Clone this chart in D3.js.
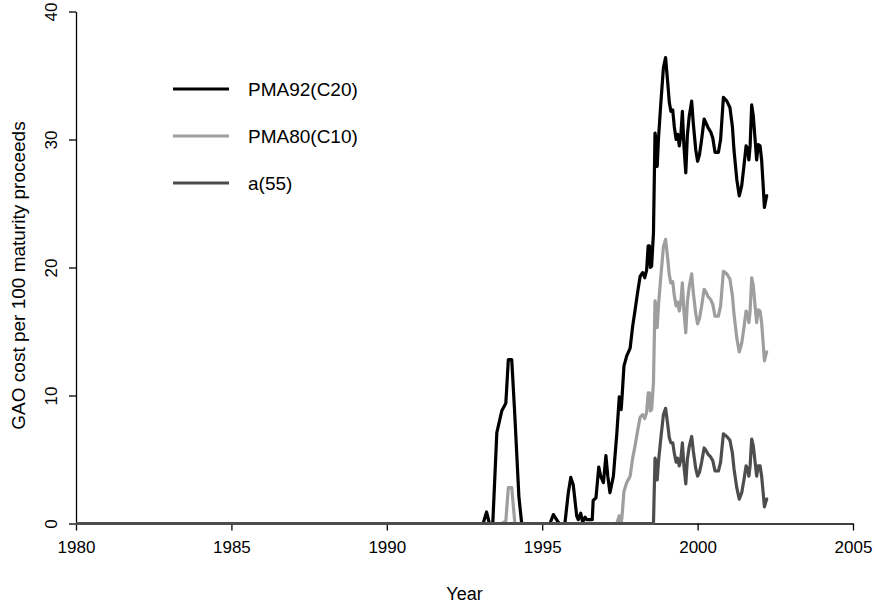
<!DOCTYPE html>
<html>
<head>
<meta charset="utf-8">
<script src="https://cdn.jsdelivr.net/npm/d3@7"></script>
<style>
  body { margin: 0; background: #fff; }
  svg { display: block; font-family: "Liberation Sans", Arial, Helvetica, sans-serif; }
</style>
</head>
<body>
<div id="chart"></div>
<script>
// values (decimal years, cost per 100)
const years = [
  1980.00, 1993.10, 1993.21, 1993.30, 1993.41, 1993.54, 1993.70, 1993.83, 1993.91, 1994.02,
  1994.12, 1994.25, 1994.34, 1995.25, 1995.36, 1995.49, 1995.55, 1995.73, 1995.84, 1995.92,
  1996.00, 1996.11, 1996.16, 1996.24, 1996.30, 1996.38, 1996.43, 1996.61, 1996.64, 1996.73,
  1996.82, 1996.88, 1996.97, 1997.05, 1997.11, 1997.18, 1997.29, 1997.40, 1997.48, 1997.54,
  1997.57, 1997.63, 1997.72, 1997.83, 1997.91, 1997.99, 1998.06, 1998.15, 1998.23, 1998.30,
  1998.36, 1998.41, 1998.45, 1998.48, 1998.52, 1998.58, 1998.63, 1998.66, 1998.70, 1998.74,
  1998.81, 1998.90, 1998.97, 1999.03, 1999.09, 1999.14, 1999.20, 1999.25, 1999.31, 1999.36,
  1999.41, 1999.46, 1999.51, 1999.56, 1999.62, 1999.67, 1999.73, 1999.81, 1999.86, 1999.94,
  2000.00, 2000.06, 2000.13, 2000.21, 2000.27, 2000.34, 2000.42, 2000.49, 2000.56, 2000.67,
  2000.74, 2000.83, 2000.94, 2001.04, 2001.12, 2001.17, 2001.26, 2001.34, 2001.42, 2001.49,
  2001.56, 2001.61, 2001.65, 2001.69, 2001.74, 2001.79, 2001.85, 2001.90, 2001.95, 2002.01,
  2002.06, 2002.11, 2002.15, 2002.22, 2002.27
];
const pma92 = [
  0, 0, 0.9, 0, 0, 7.1, 8.8, 9.4, 12.8, 12.8,
  8.4, 2.1, 0, 0, 0.7, 0.2, 0, 0, 2.4, 3.6,
  3.0, 0.6, 0.3, 0.8, 0.1, 0.5, 0.3, 0.3, 1.8, 2.0,
  4.4, 3.7, 3.2, 5.3, 3.7, 2.4, 3.7, 7.0, 9.9, 8.9,
  9.9, 12.3, 13.1, 13.7, 15.4, 16.7, 17.9, 19.3, 19.6, 19.2,
  19.8, 21.7, 21.7, 20.0, 20.1, 22.7, 30.5, 30.0, 27.9, 30.0,
  32.6, 35.6, 36.4, 34.7, 32.9, 32.2, 32.3, 31.0, 30.0, 30.4,
  29.5, 30.3, 32.2, 29.5, 27.4, 30.3, 31.8, 33.0, 31.3, 29.2,
  28.3, 28.8, 30.0, 31.6, 31.3, 30.9, 30.6, 30.1, 29.0, 29.0,
  30.0, 33.3, 33.0, 32.5, 31.0, 29.2, 26.9, 25.6, 26.4, 27.9,
  29.5, 29.3, 28.4, 29.5, 32.7, 31.9, 30.0, 28.4, 29.6, 29.5,
  28.4, 26.4, 24.7, 25.6, 25.6
];
const pma80 = [
  0, 0, 0, 0, 0, 0, 0, 0.2, 2.8, 2.8,
  0, 0, 0, 0, 0, 0, 0, 0, 0, 0,
  0, 0, 0, 0, 0, 0, 0, 0, 0, 0,
  0, 0, 0, 0, 0, 0, 0, 0, 0.6, 0,
  0.6, 2.5, 3.2, 3.7, 5.1, 6.1, 7.1, 8.3, 8.5, 8.2,
  8.7, 10.2, 10.2, 8.8, 8.9, 11.0, 17.4, 17.0, 15.3, 17.0,
  19.1, 21.6, 22.2, 20.9, 19.4, 18.8, 18.9, 17.8, 17.0, 17.3,
  16.6, 17.3, 18.8, 16.6, 14.9, 17.3, 18.5, 19.5, 18.1, 16.4,
  15.6, 16.0, 17.0, 18.3, 18.1, 17.7, 17.5, 17.1, 16.2, 16.2,
  17.0, 19.7, 19.5, 19.1, 17.8, 16.4, 14.5, 13.4, 14.1, 15.3,
  16.6, 16.4, 15.7, 16.6, 19.2, 18.6, 17.0, 15.7, 16.7, 16.6,
  15.7, 14.1, 12.7, 13.4, 13.4
];
const a55 = [
  0, 0, 0, 0, 0, 0, 0, 0, 0, 0,
  0, 0, 0, 0, 0, 0, 0, 0, 0, 0,
  0, 0, 0, 0, 0, 0, 0, 0, 0, 0,
  0, 0, 0, 0, 0, 0, 0, 0, 0, 0,
  0, 0, 0, 0, 0, 0, 0, 0, 0, 0,
  0, 0, 0, 0, 0, 0, 5.1, 4.8, 3.4, 4.8,
  6.5, 8.5, 9.0, 7.9, 6.7, 6.3, 6.3, 5.5, 4.8, 5.1,
  4.5, 5.0, 6.3, 4.5, 3.1, 5.0, 6.0, 6.8, 5.7, 4.3,
  3.7, 4.0, 4.8, 5.9, 5.7, 5.4, 5.2, 4.9, 4.1, 4.1,
  4.8, 7.0, 6.8, 6.5, 5.5, 4.3, 2.8, 1.9, 2.4, 3.4,
  4.5, 4.3, 3.7, 4.5, 6.6, 6.1, 4.8, 3.7, 4.5, 4.5,
  3.7, 2.4, 1.3, 1.9, 1.9
];
const seriesNames = ["PMA92(C20)", "PMA80(C10)", "a(55)"];
const seriesColors = ["#000000", "#9e9e9e", "#4d4d4d"];
const xTicks = [1980, 1985, 1990, 1995, 2000, 2005];
const yTicks = [0, 10, 20, 30, 40];

const width = 877, height = 605;
const svg = d3.select("#chart").append("svg")
  .attr("width", width).attr("height", height);
svg.append("rect").attr("width", width).attr("height", height).attr("fill", "#fff");

const x = d3.scaleLinear().domain([1980, 2005]).range([76, 853]);
const y = d3.scaleLinear().domain([0, 40]).range([523.5, 11.5]);

// axes (R style: no box, axis line only between first and last tick)
const xAxis = svg.append("g")
  .attr("transform", `translate(0,${y(0)})`)
  .call(d3.axisBottom(x).tickValues(xTicks).tickFormat(d3.format("d"))
    .tickSize(7).tickSizeOuter(0).tickPadding(10));
xAxis.selectAll("text").attr("font-size", 17).attr("fill", "#000")
  .attr("font-family", "Liberation Sans, Arial, sans-serif");

const yAxis = svg.append("g")
  .attr("transform", `translate(${x(1980)},0)`)
  .call(d3.axisLeft(y).tickValues(yTicks).tickSize(7).tickSizeOuter(0));
yAxis.selectAll("text")
  .attr("x", null).attr("dy", null)
  .attr("text-anchor", "middle")
  .attr("transform", "translate(-19,0) rotate(-90)")
  .attr("font-size", 17).attr("fill", "#000")
  .attr("font-family", "Liberation Sans, Arial, sans-serif");

svg.selectAll(".domain, .tick line").attr("stroke", "#000").attr("stroke-width", 1.3);

svg.append("text")
  .attr("x", (x(1980) + x(2005)) / 2).attr("y", 600)
  .attr("text-anchor", "middle").attr("font-size", 18)
  .text("Year");
svg.append("text")
  .attr("transform", `translate(25,${(y(0) + y(40)) / 2 + 8}) rotate(-90)`)
  .attr("text-anchor", "middle").attr("font-size", 19)
  .text("GAO cost per 100 maturity proceeds");

// series lines
const series = [pma92, pma80, a55];
const line = d3.line().x(d => x(d[0])).y(d => y(d[1]));
series.forEach((vals, i) => {
  svg.append("path")
    .datum(years.map((yr, j) => [yr, vals[j]]))
    .attr("fill", "none")
    .attr("stroke", seriesColors[i])
    .attr("stroke-width", 3.2)
    .attr("stroke-linejoin", "round")
    .attr("d", line);
});

// legend
const leg = svg.append("g").attr("font-size", 19);
seriesNames.forEach((label, i) => {
  const g = leg.append("g").attr("transform", `translate(173,${89 + 47 * i})`);
  g.append("line").attr("x1", 0).attr("x2", 56)
    .attr("stroke", seriesColors[i]).attr("stroke-width", 3.2);
  g.append("text").attr("x", 75).attr("dy", "0.35em").text(label);
});
</script>
</body>
</html>
